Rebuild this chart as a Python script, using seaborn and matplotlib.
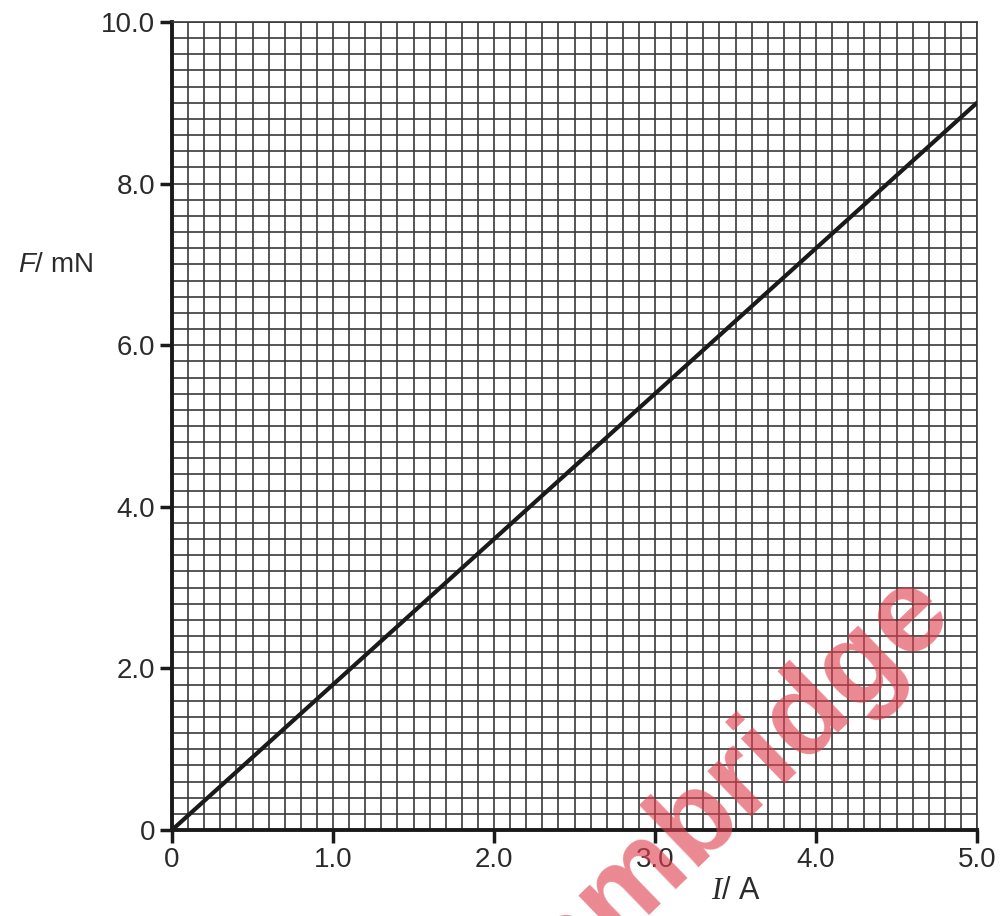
import matplotlib
matplotlib.use("Agg")
import matplotlib.pyplot as plt
from matplotlib.ticker import MultipleLocator
import seaborn as sns

# === Data ===
current_A = [0.0, 5.0]
force_mN = [0.0, 9.0]
x_ticks = [0, 1, 2, 3, 4, 5]
x_tick_labels = ["0", "1.0", "2.0", "3.0", "4.0", "5.0"]
y_ticks = [0, 2, 4, 6, 8, 10]
y_tick_labels = ["0", "2.0", "4.0", "6.0", "8.0", "10.0"]

sns.set_style("white")
plt.rcParams["font.family"] = ["Liberation Sans", "DejaVu Sans"]
plt.rcParams["mathtext.fontset"] = "custom"
plt.rcParams["mathtext.it"] = "Liberation Serif:italic"
plt.rcParams["mathtext.sf"] = "Liberation Sans:italic"
plt.rcParams["mathtext.rm"] = "Liberation Sans"

text_col = "#2b2b2b"
grid_col = "#3a3a3a"

fig = plt.figure(figsize=(10.03, 9.16), dpi=100)
ax = fig.add_axes([172 / 1003, 86 / 916, 805 / 1003, 808 / 916])

sns.lineplot(x=current_A, y=force_mN, ax=ax, color="#1a1a1a", linewidth=3, zorder=5)

ax.set_xlim(0, 5)
ax.set_ylim(0, 10)

# === Graph-paper grid ===
ax.xaxis.set_minor_locator(MultipleLocator(0.1))
ax.yaxis.set_minor_locator(MultipleLocator(0.2))
ax.grid(which="both", color=grid_col, linewidth=1.2)
ax.set_axisbelow(True)

ax.set_xticks(x_ticks)
ax.set_xticklabels(x_tick_labels)
ax.set_yticks(y_ticks)
ax.set_yticklabels(y_tick_labels)
ax.tick_params(which="major", direction="out", length=9, width=2.5, color="#1a1a1a",
               labelsize=20, labelcolor=text_col, pad=3,
               bottom=True, left=True)
ax.tick_params(which="minor", length=0)

for side in ["left", "bottom"]:
    ax.spines[side].set_linewidth(2.8)
    ax.spines[side].set_color("#1a1a1a")
for side in ["top", "right"]:
    ax.spines[side].set_linewidth(1.2)
    ax.spines[side].set_color(grid_col)

ax.set_ylabel(r"$\mathsf{F}$/ mN", fontsize=20, color=text_col, rotation=0, ha="center", va="center")
ax.yaxis.set_label_coords(-0.145, 0.699)
ax.set_xlabel(r"$I$/ A", fontsize=22, color=text_col, ha="center", va="center")
ax.xaxis.set_label_coords(0.70, -0.076)

# === Watermark ===
fig.text(955 / 1003, 1 - 615 / 916, "Cambridge", fontsize=86, fontweight="bold",
         color="#e0404f", alpha=0.62, rotation=44, rotation_mode="anchor",
         ha="right", va="baseline", zorder=10)

plt.savefig("out.png", dpi=100)
